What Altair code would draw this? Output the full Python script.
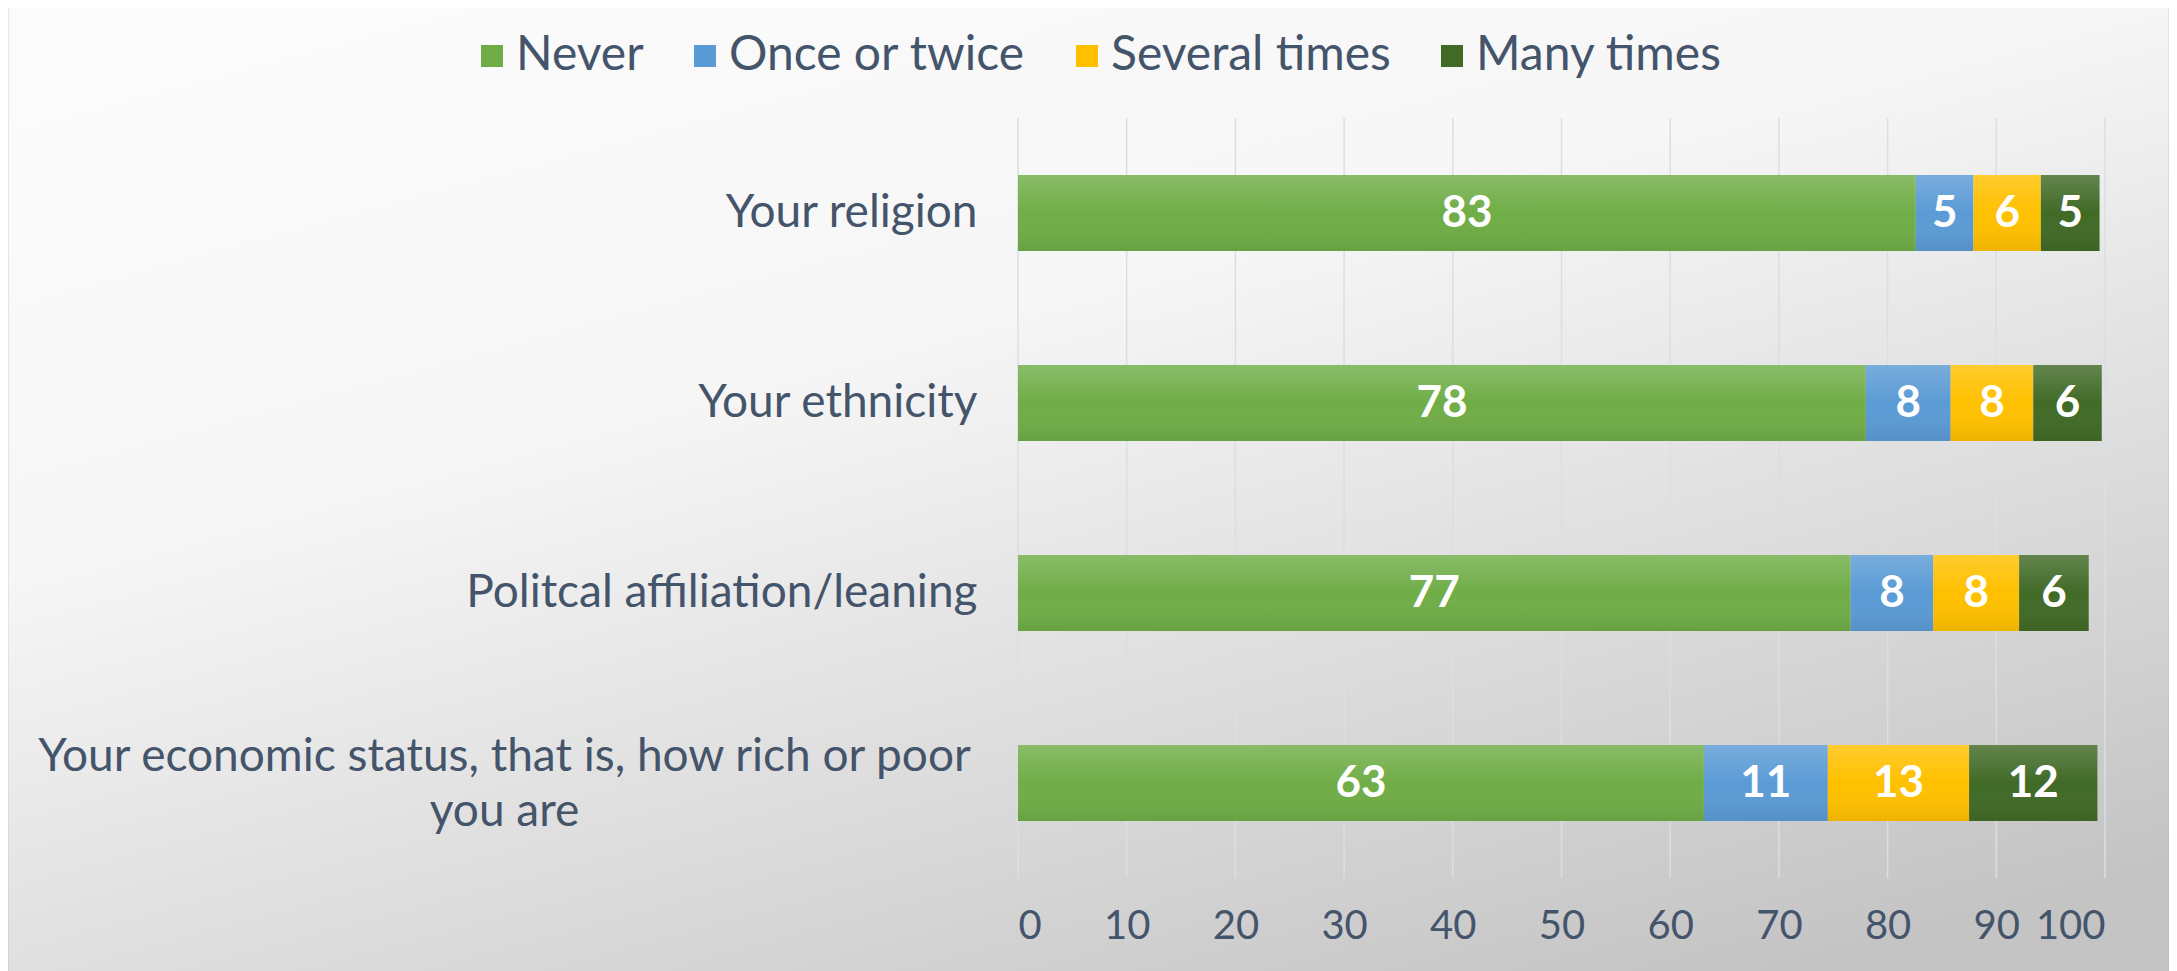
import altair as alt
import pandas as pd

categories = [
    "Your religion",
    "Your ethnicity",
    "Politcal affiliation/leaning",
    "Your economic status, that is, how rich or poor you are",
]
econ_lines = ["Your economic status, that is, how rich or poor", "you are"]
series = ["Never", "Once or twice", "Several times", "Many times"]
never = [82.6, 78.0, 76.6, 63.1]
once = [5.3, 7.8, 7.6, 11.4]
several = [6.2, 7.6, 7.9, 13.0]
many = [5.4, 6.3, 6.4, 11.8]
colors = ["#70AD47", "#5B9BD5", "#FFC000", "#416A27"]
x_ticks = [0, 10, 20, 30, 40, 50, 60, 70, 80, 90, 100]

rows = []
for si, (s, vals) in enumerate(zip(series, [never, once, several, many])):
    for c, v in zip(categories, vals):
        rows.append({"category": c, "series": s, "order": si, "value": v})
df = pd.DataFrame(rows)

W, H = 1087, 760
PL, PT, PR, PB = 1010, 110, 64, 93
FONT = "Lato"
TXT = "#44546A"

x_scale = alt.Scale(domain=[0, 100], nice=False)
y_scale = alt.Scale(paddingInner=0.6, paddingOuter=0.3)

base = alt.Chart(df).transform_stack(
    stack="value", groupby=["category"], sort=[alt.SortField("order")], as_=["x0", "x1"]
).transform_calculate(mid="(datum.x0 + datum.x1) / 2")

econ = categories[3]
is_econ = f"datum.value == '{econ}'"
label_expr = (
    f"{is_econ} ? ['{econ_lines[0]}', '{econ_lines[1]}'] : datum.label"
)

y_enc = alt.Y(
    "category:N",
    sort=categories,
    scale=y_scale,
    axis=alt.Axis(
        title=None,
        ticks=False,
        domain=False,
        zindex=1,
        labelExpr=label_expr,
        labelFont=FONT,
        labelFontSize=46,
        labelColor=TXT,
        labelLimit=2000,
        labelLineHeight=55,
        labelAlign=alt.condition(is_econ, alt.value("center"), alt.value("right")),
        labelPadding=alt.condition(is_econ, alt.value(514), alt.value(41)),
        labelOffset=alt.condition(is_econ, alt.value(-26), alt.value(0)),
    ),
)

bars = base.mark_bar().encode(
    x=alt.X(
        "x0:Q",
        scale=x_scale,
        axis=alt.Axis(
            title=None,
            values=x_ticks,
            domain=False,
            ticks=False,
            grid=False,
            zindex=1,
            labelFont=FONT,
            labelFontSize=40,
            labelColor=TXT,
            labelPadding=28,
        ),
    ),
    x2="x1:Q",
    y=y_enc,
    color=alt.Color(
        "series:N",
        sort=series,
        scale=alt.Scale(domain=series, range=colors),
        legend=alt.Legend(
            title=None,
            orient="none",
            direction="horizontal",
            legendX=-550,
            legendY=-86,
            symbolType="square",
            symbolSize=484,
            symbolStrokeWidth=0,
            labelFont=FONT,
            labelFontSize=48,
            labelColor=TXT,
            labelLimit=800,
            columnPadding=37,
            labelOffset=0,
            zindex=1,
        ),
    ),
    order=alt.Order("order:Q"),
)

shade = base.mark_bar(
    color=alt.LinearGradient(
        gradient="linear",
        x1=0, y1=0, x2=0, y2=1,
        stops=[
            alt.GradientStop(offset=0, color="rgba(255,255,255,0.18)"),
            alt.GradientStop(offset=0.5, color="rgba(255,255,255,0)"),
            alt.GradientStop(offset=1, color="rgba(0,0,0,0.07)"),
        ],
    )
).encode(
    x=alt.X("x0:Q", scale=x_scale),
    x2="x1:Q",
    y=alt.Y("category:N", sort=categories, scale=y_scale),
)

labels = base.mark_text(
    color="white", font=FONT, fontWeight="bold", fontSize=44, baseline="middle", align="center", dy=1
).encode(
    x="mid:Q",
    y=alt.Y("category:N", sort=categories),
    text=alt.Text("value:Q", format=".0f"),
)

grid = alt.Chart(pd.DataFrame({"tick": x_ticks})).mark_rule(
    color="#D9DFE7", strokeWidth=1.5
).encode(
    x=alt.X("tick:Q", scale=x_scale),
    y=alt.value(0),
    y2=alt.value(H),
)

bg = alt.Chart(pd.DataFrame({"k": [0]})).mark_rect(
    color=alt.LinearGradient(
        gradient="linear",
        x1=0.2, y1=0, x2=0.8, y2=1,
        stops=[
            alt.GradientStop(offset=0, color="#FBFBFB"),
            alt.GradientStop(offset=0.35, color="#F6F6F6"),
            alt.GradientStop(offset=1, color="#C4C4C4"),
        ],
    )
).encode(
    x=alt.value(-PL - 8), x2=alt.value(W + PR + 8), y=alt.value(-PT - 8), y2=alt.value(H + PB + 8)
)

border = alt.Chart(pd.DataFrame({"k": [0]})).mark_rect(
    fill=None, stroke="#92D050", strokeWidth=2.5
).encode(
    x=alt.value(-PL - 1), x2=alt.value(W + PR + 1), y=alt.value(-PT - 2), y2=alt.value(H + PB + 40)
)

chart = alt.layer(bg, border, grid, bars, shade, labels).properties(
    width=W,
    height=H,
    padding={"left": PL, "top": PT, "right": PR, "bottom": PB},
    autosize=alt.AutoSizeParams(type="none"),
    background="#FFFFFF",
).configure_view(stroke=None)

chart.save("out.html", embed_options={"renderer": "svg", "actions": False})
